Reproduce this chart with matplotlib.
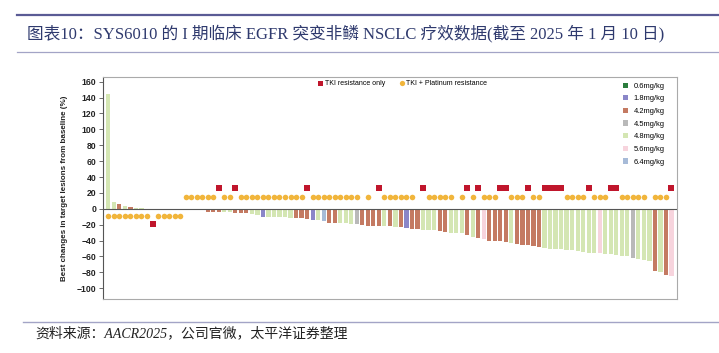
import numpy as np
import matplotlib.pyplot as plt
from matplotlib.lines import Line2D
from matplotlib.patches import Patch

plt.rcParams['font.family'] = ['Liberation Sans', 'DejaVu Sans']

TITLE = "图表10：SYS6010 的 I 期临床 EGFR 突变非鳞 NSCLC 疗效数据(截至 2025 年 1 月 10 日)"
SOURCE = "资料来源：AACR2025，公司官微，太平洋证券整理"
YLABEL = "Best changes in target lesions from baseline (%)"

DOSES = ["0.6mg/kg", "1.8mg/kg", "4.2mg/kg", "4.5mg/kg",
         "4.8mg/kg", "5.6mg/kg", "6.4mg/kg"]
DOSE_COLORS = ["#2b7d3d", "#8a86c8", "#c47a62", "#b9b9b9",
               "#d4e6b3", "#f7d4dd", "#a7bbd8"]

# best % change per patient (waterfall order)
best_change = [145, 9, 6, 4, 2.5, 1, 0.5, 0, 0, 0, 0, 0, 0, 0,
               -0.5, -1, -1, -1.5, -3.5, -3.5, -4, -4, -4, -5, -5.5, -5.5,
               -7, -7.5, -10.5, -10,
               -10, -10, -10.5, -11, -12, -12, -12.5, -14.5, -14, -15,
               -18, -18, -18, -18, -18.5, -19,
               -20, -21, -21, -21.5, -22, -22, -23, -23, -24, -26, -26,
               -27, -27, -27, -28, -29,
               -30, -30, -31, -33, -35, -37, -38, -40, -41, -41, -42, -43,
               -44, -45, -46, -47, -48,
               -49, -50, -50, -51, -52, -52, -53, -54, -55, -55, -56,
               -57, -57, -58, -59, -60, -62,
               -63, -64, -66, -78, -79, -83, -85]

# dose of each patient (index into DOSES)
dose = [4, 4, 2, 4, 2, 4, 4, 4, 4, 4, 4, 4, 4, 4,
        4, 3, 4, 4, 2, 2, 2, 4, 4, 2, 2, 2, 4, 4, 1, 4,
        4, 4, 4, 4, 2, 2, 2, 1, 4, 6, 2, 2, 4, 4, 4, 3,
        2, 2, 2, 2, 4, 2, 4, 2, 1, 2, 2, 4, 4, 4, 2, 2,
        4, 4, 4, 2, 4, 2, 5, 2, 2, 2, 2, 4, 2, 2, 2, 2, 2,
        4, 4, 4, 4, 4, 4, 4, 4, 4, 4, 5, 4, 4, 4, 4, 4, 3,
        4, 4, 4, 2, 4, 2, 5]

# prior treatment: P = TKI + Platinum resistance, T = TKI resistance only
prior = ("PPPPPPPP" "T" "PPPPP" "PPPPPP" "T" "PP" "T" "PPPPPPPPPPPP" "T"
         "PPPPPPPPP" "-" "P" "-" "T" "PPPPPP" "-" "T" "PPPPP" "-" "P" "T"
         "P" "T" "PPP" "TT" "PPP" "T" "PP" "TTTT" "PPPP" "T" "PPP" "TT"
         "PPPPP" "-" "PPP" "T")

vals = np.array(best_change, dtype=float)
x = np.arange(len(vals))
grp = np.array(list(prior))

fig = plt.figure(figsize=(7.19, 3.53), dpi=100)
ax = fig.add_axes([0.1433, 0.153, 0.7983, 0.629])

ax.bar(x, vals, width=0.76, color=[DOSE_COLORS[d] for d in dose],
       edgecolor="none", zorder=2)
ax.axhline(0, color="#555555", lw=0.8, zorder=3)

# markers on the opposite side of the bar
pos = vals >= 0
dot_y = np.where(pos, -9, 15)
sq_y = np.where(pos, -19.5, 26)
m_p = grp == "P"
m_t = grp == "T"
ax.scatter(x[m_p], dot_y[m_p], s=16, color="#f1b53b", linewidths=0, zorder=4)
ax.scatter(x[m_t], sq_y[m_t], s=14, marker="s", color="#c0162c",
           linewidths=0, zorder=4)

ax.set_xlim(-0.96, 103.0)
ax.set_ylim(-113.5, 166)
ax.set_yticks(np.arange(-100, 161, 20))
ax.set_xticks([])
ax.tick_params(axis="y", length=3, width=0.6, color="#555555", pad=2,
               labelsize=6.2, labelcolor="#222222")
for lab in ax.get_yticklabels():
    lab.set_fontweight("bold")
ax.set_ylabel(YLABEL, fontsize=5.8, fontweight="bold", color="#222222",
              labelpad=6)
for s in ["top", "right", "bottom"]:
    ax.spines[s].set_color("#aaaaaa")
    ax.spines[s].set_linewidth(0.8)
ax.spines["left"].set_color("#555555")
ax.spines["left"].set_linewidth(0.8)

# legend: prior treatment
h1 = [Line2D([], [], marker="s", ls="", color="#c0162c", markersize=3.6,
             markeredgewidth=0, label="TKI resistance only"),
      Line2D([], [], marker="o", ls="", color="#f1b53b", markersize=3.8,
             markeredgewidth=0, label="TKI + Platinum resistance")]
leg1 = ax.legend(handles=h1, loc="upper left", bbox_to_anchor=(0.375, 0.985),
                 ncol=2, frameon=False, fontsize=5, handlelength=0.6,
                 handletextpad=0.3, columnspacing=2.2, borderpad=0,
                 borderaxespad=0)
ax.add_artist(leg1)

# legend: dose levels
h2 = [Patch(facecolor=c, edgecolor="none", label=d)
      for d, c in zip(DOSES, DOSE_COLORS)]
ax.legend(handles=h2, loc="upper left", bbox_to_anchor=(0.906, 0.975),
          frameon=False, fontsize=5.4, handlelength=0.7, handleheight=0.7,
          handletextpad=0.7, labelspacing=0.72, borderpad=0, borderaxespad=0)

# header / footer
fig.add_artist(Line2D([0.0236, 1.0], [0.9575, 0.9575], color="#5a5b95",
                      lw=1.6, transform=fig.transFigure))
fig.add_artist(Line2D([0.0236, 1.0], [0.8527, 0.8527], color="#a3a4c6",
                      lw=0.9, transform=fig.transFigure))
fig.text(0.0375, 0.906, TITLE, fontsize=12, color="#2f3a6e", va="center",
         family=["Liberation Serif", "Noto Sans CJK SC"])
fig.add_artist(Line2D([0.032, 1.0], [0.0878, 0.0878], color="#a3a4c6",
                      lw=1.0, transform=fig.transFigure))
fig.text(0.0487, 0.0567, SOURCE, fontsize=10, color="#222222", va="center",
         style="italic", family=["Liberation Serif", "Noto Sans CJK SC"])

fig.savefig("out.png", dpi=100)
